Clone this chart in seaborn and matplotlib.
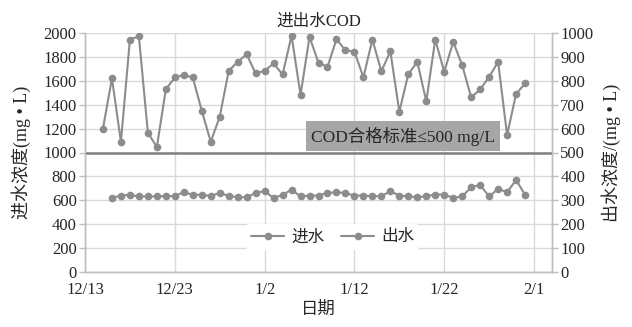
import matplotlib
matplotlib.use("Agg")
import matplotlib.pyplot as plt
import pandas as pd
import seaborn as sns

# Daily influent / effluent COD (mg/L)
influent_start = "2019-12-15"
influent_cod = [1200, 1620, 1090, 1945, 1972, 1167, 1045, 1528, 1628, 1648,
                1628, 1350, 1090, 1298, 1683, 1758, 1822, 1662, 1683, 1745,
                1653, 1978, 1481, 1967, 1750, 1717, 1947, 1856, 1845,
                1628, 1945, 1680, 1847, 1341, 1656, 1758, 1428, 1945, 1675,
                1925, 1731, 1461, 1528, 1633, 1758, 1147, 1489, 1578]
effluent_start = "2019-12-16"
effluent_cod = [310, 320, 323, 316, 316, 316, 318, 318, 334, 323,
                323, 318, 331, 318, 314, 312, 331, 339, 309, 323,
                344, 316, 320, 320, 331,
                334, 330, 320, 320, 317, 317, 338, 320, 316, 313,
                317, 324, 324, 310, 316, 355, 364, 316, 348, 334,
                385, 323]
tick_dates = ["2019-12-13", "2019-12-23", "2020-01-02", "2020-01-12", "2020-01-22", "2020-02-01"]
tick_labels = ["12/13", "12/23", "1/2", "1/12", "1/22", "2/1"]
standard_left = 1000
standard_text = "COD合格标准≤500 mg/L"

df_in = pd.DataFrame({"日期": pd.date_range(influent_start, periods=len(influent_cod), freq="D"),
                      "COD": influent_cod})
df_out = pd.DataFrame({"日期": pd.date_range(effluent_start, periods=len(effluent_cod), freq="D"),
                       "COD": effluent_cod})

sns.set_style("white")
plt.rcParams["font.family"] = ["Liberation Serif", "Noto Sans CJK SC"]
plt.rcParams["axes.unicode_minus"] = False

line_color = "#8c8c8c"
grid_color = "#d9d9d9"
spine_color = "#bfbfbf"
text_color = "#262626"

fig, ax = plt.subplots(figsize=(6.32, 3.27), dpi=100)
fig.subplots_adjust(left=85 / 632, right=552 / 632, top=1 - 33 / 327, bottom=1 - 272 / 327)
ax2 = ax.twinx()

sns.lineplot(data=df_in, x="日期", y="COD", ax=ax, color=line_color, marker="o",
             markersize=5.5, markeredgewidth=0, linewidth=1.5, label="进水", legend=False)
sns.lineplot(data=df_out, x="日期", y="COD", ax=ax2, color=line_color, marker="o",
             markersize=5.5, markeredgewidth=0, linewidth=1.5, label="出水", legend=False)

# Discharge standard
ax.axhline(standard_left, color="#7f7f7f", linewidth=1.8, zorder=3)

ax.set_xlim(pd.Timestamp("2019-12-13"), pd.Timestamp("2020-02-03"))
ax.set_ylim(0, 2000)
ax2.set_ylim(0, 1000)
ax.set_yticks(range(0, 2001, 200))
ax2.set_yticks(range(0, 1001, 100))
ax.set_xticks(pd.to_datetime(tick_dates))
ax.set_xticklabels(tick_labels)

ax.grid(True, color=grid_color, linewidth=1)
ax2.grid(False)
ax.set_axisbelow(True)

for a in (ax, ax2):
    for s in a.spines.values():
        s.set_color(spine_color)
        s.set_linewidth(1)
    a.spines["top"].set_visible(False)
    a.tick_params(colors=text_color, labelsize=12, length=4, width=1)
    a.tick_params(axis="both", color=spine_color)
ax.tick_params(axis="x", pad=3)
ax.tick_params(axis="y", pad=2)
ax2.tick_params(axis="y", pad=2)

ax.set_xlabel("日期", fontsize=12.5, color=text_color, labelpad=3)
ax.set_ylabel("进水浓度(mg • L)", fontsize=13, color=text_color, labelpad=9)
ax2.set_ylabel("出水浓度/(mg • L)", fontsize=13, color=text_color, labelpad=6)
ax.set_title("进出水COD", fontsize=12, color=text_color, pad=5)

ax2.text(0.681, 0.569, standard_text, transform=ax2.transAxes, ha="center", va="center",
         fontsize=12.5, color=text_color, zorder=5,
         bbox=dict(boxstyle="square,pad=0.3", facecolor="#a6a6a6", edgecolor="none"))

h1, l1 = ax.get_legend_handles_labels()
h2, l2 = ax2.get_legend_handles_labels()
leg = ax2.legend(h1 + h2, l1 + l2, loc="center", bbox_to_anchor=(0.53, 0.145), ncol=2,
                 frameon=True, facecolor="white", edgecolor="none", framealpha=1,
                 fontsize=12, handlelength=2.0, columnspacing=1.0, handletextpad=0.4,
                 borderpad=0.3)
for t in leg.get_texts():
    t.set_color(text_color)

fig.savefig("out.png", dpi=100)
